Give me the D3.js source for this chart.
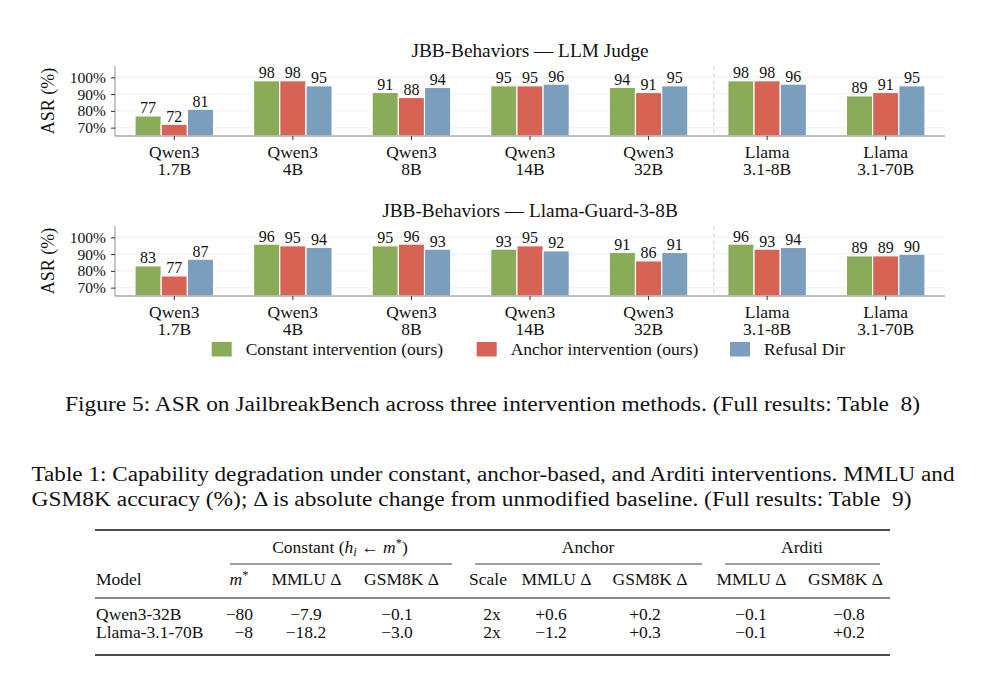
<!DOCTYPE html>
<html>
<head>
<meta charset="utf-8">
<style>
    body { margin: 0; background: #fff; }
    svg text { font-family: "Liberation Serif", "Times New Roman", serif; fill: #111; }
</style>
<script src="https://cdn.jsdelivr.net/npm/d3@7/dist/d3.min.js"></script>
</head>
<body>
<svg id="fig" width="986" height="676"></svg>
<script>
    // chart data
    var modelFamily = ["Qwen3", "Qwen3", "Qwen3", "Qwen3", "Qwen3", "Llama", "Llama"];
    var modelSize = ["1.7B", "4B", "8B", "14B", "32B", "3.1-8B", "3.1-70B"];
    var seriesNames = ["Constant intervention (ours)", "Anchor intervention (ours)", "Refusal Dir"];
    var seriesColors = ["#8aab57", "#d66354", "#7a9ebc"];

    var judgeConstant = [77, 98, 91, 95, 94, 98, 89];
    var judgeAnchor   = [72, 98, 88, 95, 91, 98, 91];
    var judgeRefusal  = [81, 95, 94, 96, 95, 96, 95];

    var guardConstant = [83, 96, 95, 93, 91, 96, 89];
    var guardAnchor   = [77, 95, 96, 95, 86, 93, 89];
    var guardRefusal  = [87, 94, 93, 92, 91, 94, 90];

    var yTicks = [70, 80, 90, 100];

    // table data
    var tableModels = ["Qwen3-32B", "Llama-3.1-70B"];
    var constM      = ["\u221280", "\u22128"];
    var constMMLU   = ["\u22127.9", "\u221218.2"];
    var constGSM    = ["\u22120.1", "\u22123.0"];
    var anchorScale = ["2x", "2x"];
    var anchorMMLU  = ["+0.6", "\u22121.2"];
    var anchorGSM   = ["+0.2", "+0.3"];
    var arditiMMLU  = ["\u22120.1", "\u22120.1"];
    var arditiGSM   = ["\u22120.8", "+0.2"];

    var svg = d3.select("#fig");
    var categories = modelSize.map(function (d, i) { return modelFamily[i] + " " + d; });

    var x = d3.scaleBand().domain(categories).range([115, 945]).padding(0);
    var xInner = d3.scaleBand().domain(seriesNames).range([-39.3, 39.3]);

    function drawPanel(top, title, series) {
        var g = svg.append("g").attr("transform", "translate(0," + top + ")");
        var y = d3.scaleLinear().domain([65, 106.8]).range([136, 66]);

        // grid
        g.selectAll(".grid").data(yTicks).enter().append("line")
            .attr("x1", 115).attr("x2", 945)
            .attr("y1", function (d) { return y(d); })
            .attr("y2", function (d) { return y(d); })
            .attr("stroke", "#ececec").attr("stroke-width", 0.8);

        // dashed separator between Qwen and Llama
        var sepX = x(categories[4]) + x.bandwidth() * 1.05;
        g.append("line")
            .attr("x1", sepX).attr("x2", sepX)
            .attr("y1", y(106.8)).attr("y2", y(65))
            .attr("stroke", "#d0d0d0").attr("stroke-width", 1)
            .attr("stroke-dasharray", "4,3");

        // bars
        var rows = [];
        categories.forEach(function (c, i) {
            series.forEach(function (s, j) {
                rows.push({ cat: c, name: seriesNames[j], value: s[i], color: seriesColors[j] });
            });
        });

        g.selectAll(".bar").data(rows).enter().append("rect")
            .attr("x", function (d) { return x(d.cat) + x.bandwidth() / 2 + xInner(d.name); })
            .attr("width", xInner.bandwidth())
            .attr("y", function (d) { return y(d.value); })
            .attr("height", function (d) { return y(65) - y(d.value); })
            .attr("fill", function (d) { return d.color; })
            .attr("stroke", "#fff").attr("stroke-width", 1.2);

        g.selectAll(".val").data(rows).enter().append("text")
            .attr("x", function (d) { return x(d.cat) + x.bandwidth() / 2 + xInner(d.name) + xInner.bandwidth() / 2; })
            .attr("y", function (d) { return y(d.value) - 2.5; })
            .attr("text-anchor", "middle")
            .style("font-size", "16px")
            .text(function (d) { return d.value; });

        // axes
        var yAxis = d3.axisLeft(y).tickValues(yTicks).tickSize(4).tickPadding(5)
            .tickFormat(function (d) { return d + "%"; });
        var ya = g.append("g").attr("transform", "translate(115,0)").call(yAxis);
        ya.select(".domain").attr("stroke", "#aaa").attr("stroke-width", 1.3)
            .attr("d", "M0," + y(106.8) + "V" + y(65));
        ya.selectAll(".tick line").attr("stroke", "#333");
        ya.selectAll(".tick text").style("font-size", "15.5px")
            .style("font-family", '"Liberation Serif", serif').attr("fill", "#111");

        var xAxis = d3.axisBottom(x).tickSize(4).tickFormat("");
        var xa = g.append("g").attr("transform", "translate(0," + y(65) + ")").call(xAxis);
        xa.select(".domain").attr("stroke", "#aaa").attr("stroke-width", 1.3)
            .attr("d", "M115,0H945");
        xa.selectAll(".tick line").attr("stroke", "#333");
        xa.selectAll(".tick text").remove();

        // two-line category labels
        g.selectAll(".xfam").data(categories).enter().append("text")
            .attr("x", function (d) { return x(d) + x.bandwidth() / 2; })
            .attr("y", 158)
            .attr("text-anchor", "middle")
            .style("font-size", "17.5px")
            .text(function (d, i) { return modelFamily[i]; });
        g.selectAll(".xsize").data(categories).enter().append("text")
            .attr("x", function (d) { return x(d) + x.bandwidth() / 2; })
            .attr("y", 175)
            .attr("text-anchor", "middle")
            .style("font-size", "17.5px")
            .text(function (d, i) { return modelSize[i]; });

        g.append("text")
            .attr("x", 530).attr("y", 56.5)
            .attr("text-anchor", "middle")
            .style("font-size", "19.3px")
            .text(title);

        g.append("text")
            .attr("transform", "translate(54," + (y(65) + y(106.8)) / 2 + ") rotate(-90)")
            .attr("text-anchor", "middle")
            .style("font-size", "18px")
            .text("ASR (%)");
    }

    drawPanel(0, "JBB-Behaviors \u2014 LLM Judge", [judgeConstant, judgeAnchor, judgeRefusal]);
    drawPanel(160, "JBB-Behaviors \u2014 Llama-Guard-3-8B", [guardConstant, guardAnchor, guardRefusal]);

    // legend
    var legendX = [211.7, 476.7, 730];
    var leg = svg.selectAll(".leg").data(seriesNames).enter().append("g")
        .attr("transform", function (d, i) { return "translate(" + legendX[i] + ",342)"; });
    leg.append("rect").attr("width", 20).attr("height", 14.5)
        .attr("fill", function (d, i) { return seriesColors[i]; });
    leg.append("text").attr("x", 34).attr("y", 13)
        .style("font-size", "17.5px")
        .text(function (d) { return d; });

    // captions
    svg.append("text").attr("x", 65).attr("y", 411)
        .attr("textLength", 855).attr("lengthAdjust", "spacingAndGlyphs")
        .style("font-size", "20px")
        .text("Figure 5: ASR on JailbreakBench across three intervention methods. (Full results: Table \u00a08)");

    svg.append("text").attr("x", 31.5).attr("y", 481)
        .attr("textLength", 923).attr("lengthAdjust", "spacingAndGlyphs")
        .style("font-size", "20px")
        .text("Table 1: Capability degradation under constant, anchor-based, and Arditi interventions. MMLU and");
    svg.append("text").attr("x", 31.5).attr("y", 506)
        .attr("textLength", 880).attr("lengthAdjust", "spacingAndGlyphs")
        .style("font-size", "20px")
        .text("GSM8K accuracy (%); \u0394 is absolute change from unmodified baseline. (Full results: Table \u00a09)");

    // table
    var tfs = "17.5px";
    var t = svg.append("g");
    function rule(x1, x2, yy, w) {
        t.append("line").attr("x1", x1).attr("x2", x2).attr("y1", yy).attr("y2", yy)
            .attr("stroke", "#111").attr("stroke-width", w);
    }
    rule(95, 890, 530, 1.6);
    rule(230, 452, 564, 0.8);
    rule(475, 702, 564, 0.8);
    rule(725, 880, 564, 0.8);
    rule(95, 890, 598, 1);
    rule(95, 890, 655, 1.6);

    var grp = t.append("text").attr("x", 340).attr("y", 553).attr("text-anchor", "middle").style("font-size", tfs);
    grp.append("tspan").text("Constant (");
    grp.append("tspan").style("font-style", "italic").text("h");
    grp.append("tspan").style("font-style", "italic").style("font-size", "12.5px").attr("dy", 3).text("i");
    grp.append("tspan").attr("dy", -3).text(" \u2190 ");
    grp.append("tspan").style("font-style", "italic").text("m");
    grp.append("tspan").style("font-size", "12.5px").attr("dy", -6).text("*");
    grp.append("tspan").attr("dy", 6).text(")");

    t.append("text").attr("x", 588).attr("y", 553).attr("text-anchor", "middle").style("font-size", tfs).text("Anchor");
    t.append("text").attr("x", 802).attr("y", 553).attr("text-anchor", "middle").style("font-size", tfs).text("Arditi");

    t.append("text").attr("x", 96).attr("y", 585).style("font-size", tfs).text("Model");
    var mh = t.append("text").attr("x", 239).attr("y", 585).attr("text-anchor", "middle").style("font-size", tfs);
    mh.append("tspan").style("font-style", "italic").text("m");
    mh.append("tspan").style("font-size", "12.5px").attr("dy", -6).text("*");

    var headers = ["MMLU \u0394", "GSM8K \u0394", "Scale", "MMLU \u0394", "GSM8K \u0394", "MMLU \u0394", "GSM8K \u0394"];
    var headerX = [306.5, 401.5, 488, 556.5, 650, 751.5, 845.5];
    t.selectAll(".hdr").data(headers).enter().append("text")
        .attr("x", function (d, i) { return headerX[i]; }).attr("y", 585)
        .attr("text-anchor", "middle").style("font-size", tfs)
        .text(function (d) { return d; });

    var cols = [constMMLU, constGSM, anchorScale, anchorMMLU, anchorGSM, arditiMMLU, arditiGSM];
    var colX = [306, 397, 492, 551, 645, 751, 849];
    var rowY = [620, 637.5];
    tableModels.forEach(function (m, r) {
        t.append("text").attr("x", 96).attr("y", rowY[r]).style("font-size", tfs).text(m);
        t.append("text").attr("x", 253).attr("y", rowY[r]).attr("text-anchor", "end").style("font-size", tfs).text(constM[r]);
        cols.forEach(function (c, k) {
            t.append("text").attr("x", colX[k]).attr("y", rowY[r]).attr("text-anchor", "middle")
                .style("font-size", tfs).text(c[r]);
        });
    });
</script>
</body>
</html>
